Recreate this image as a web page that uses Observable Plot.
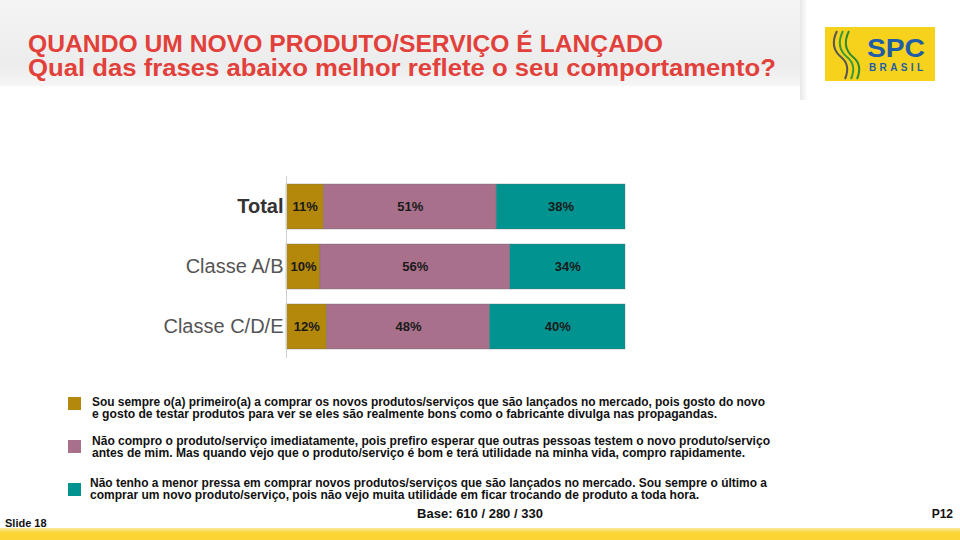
<!DOCTYPE html>
<html><head><meta charset="utf-8">
<script src="https://cdn.jsdelivr.net/npm/d3@7"></script>
<script src="https://cdn.jsdelivr.net/npm/@observablehq/plot@0.6"></script>
<style>
body{margin:0;background:#fff;}
#page{position:relative;width:960px;height:540px;overflow:hidden;background:#fff;font-family:"Liberation Sans",Arial,sans-serif;}
#header{position:absolute;left:0;top:0;width:805px;height:86px;background:linear-gradient(#f5f5f5 0%,#ececec 75%,#f6f6f6 100%);}
#hshadow{position:absolute;left:800px;top:0;width:8px;height:100px;background:linear-gradient(90deg,#e8e8e8,#fff);}
#logo{position:absolute;left:825px;top:27px;width:110px;height:54px;background:#f7d21c;}
#chart{position:absolute;left:0;top:176px;}
#overlay{position:absolute;left:0;top:0;}
.leg{position:absolute;left:68px;width:13px;height:13px;}
#band{position:absolute;left:0;top:528px;width:960px;height:12px;background:linear-gradient(#fbe9a0,#fcd535 40%,#fcd535);}
</style></head>
<body><div id="page">
<div id="header"></div><div id="hshadow"></div>
<div id="logo"><svg width="110" height="54" style="position:absolute;left:0;top:0">
<path d="M12 4 Q4 20 16 30 Q26 38 20 52" stroke="#555" stroke-width="2" fill="none"/>
<path d="M18 4 Q10 20 22 30 Q32 38 26 52" stroke="#3a9a3a" stroke-width="2" fill="none"/>
<path d="M24 4 Q16 20 28 30 Q38 38 32 52" stroke="#2e8a2e" stroke-width="2" fill="none"/>
<text x="71" y="30" text-anchor="middle" font-family="'Liberation Sans', Arial, sans-serif" font-weight="bold" font-size="26" fill="#1f5da8" textLength="58" lengthAdjust="spacingAndGlyphs">SPC</text>
<text x="71" y="43.5" text-anchor="middle" font-family="'Liberation Sans', Arial, sans-serif" font-weight="bold" font-size="10" fill="#1f5da8" textLength="54" lengthAdjust="spacing">BRASIL</text>
</svg></div>
<div id="chart"></div>
<div id="legend"></div>
<div id="band"></div>
<svg id="overlay" width="960" height="540"></svg>
</div>
<script>
const categories = ["Total", "Classe A/B", "Classe C/D/E"];
const seriesNames = ["Primeiro", "Espera", "Último"];
const primeiro = [11, 10, 12];
const espera = [51, 56, 48];
const ultimo = [38, 34, 40];
const colors = ["#b3880b", "#a8708b", "#019390"];
const titleLines = ["QUANDO UM NOVO PRODUTO/SERVIÇO É LANÇADO", "Qual das frases abaixo melhor reflete o seu comportamento?"];
const legendTexts = [
  ["Sou sempre o(a) primeiro(a) a comprar os novos produtos/serviços que são lançados no mercado, pois gosto do novo", "e gosto de testar produtos para ver se eles são realmente bons como o fabricante divulga nas propagandas."],
  ["Não compro o produto/serviço imediatamente, pois prefiro esperar que outras pessoas testem o novo produto/serviço", "antes de mim. Mas quando vejo que o produto/serviço é bom e terá utilidade na minha vida, compro rapidamente."],
  ["Não tenho a menor pressa em comprar novos produtos/serviços que são lançados no mercado. Sou sempre o último a", "comprar um novo produto/serviço, pois não vejo muita utilidade em ficar trocando de produto a toda hora."]
];
const baseText = "Base: 610 / 280 / 330";
const slideText = "Slide 18";
const pageText = "P12";

const seriesValues = [primeiro, espera, ultimo];
const data = [];
categories.forEach((c, i) => seriesNames.forEach((s, j) => data.push({cat: c, series: s, value: seriesValues[j][i]})));

const chart = Plot.plot({
  width: 960, height: 182,
  marginLeft: 286, marginRight: 335, marginTop: 0, marginBottom: 0,
  x: {domain: [0, 100], axis: null},
  y: {domain: categories, paddingInner: 0.246, paddingOuter: 0.115, axis: null},
  color: {domain: seriesNames, range: colors},
  style: {fontFamily: "'Liberation Sans', Arial, sans-serif", background: "transparent"},
  marks: [
    Plot.barX(data, Plot.stackX({x: "value", y: "cat", fill: "series", order: seriesNames, stroke: "#6a6a6a", strokeWidth: 0.6, strokeOpacity: 0.6})),
    Plot.textX(data, Plot.stackX({x: "value", y: "cat", z: "series", order: seriesNames, text: d => d.value + "%", fill: "#1a1a1a", fontSize: 13, fontWeight: "bold"})),
    Plot.ruleX([0], {stroke: "#cfcfcf", strokeWidth: 1}),
    Plot.text(categories.filter(c => c === "Total"), {x: () => 0, y: d => d, text: d => d, textAnchor: "end", dx: -3, fontSize: 20, fontWeight: "bold", fill: "#333"}),
    Plot.text(categories.filter(c => c !== "Total"), {x: () => 0, y: d => d, text: d => d, textAnchor: "end", dx: -3, fontSize: 20, fill: "#555"})
  ]
});
document.getElementById("chart").appendChild(chart);

const ov = d3.select("#overlay");
function addText(t, x, y, size, len, fill, anchor) {
  const el = ov.append("text").attr("x", x).attr("y", y).text(t)
    .attr("font-family", "'Liberation Sans', Arial, sans-serif").attr("font-weight", "bold")
    .attr("font-size", size).attr("fill", fill).attr("text-anchor", anchor || "start");
  if (len) el.attr("textLength", len).attr("lengthAdjust", "spacingAndGlyphs");
}
addText(titleLines[0], 28, 52, 24, 635, "#e2403a");
addText(titleLines[1], 28, 75.5, 23.5, 748, "#e2403a");

const leg = document.getElementById("legend");
const sqTops = [397, 440, 483];
const baselines = [[405.5, 418], [444.5, 457], [486.5, 499]];
const lineEnds = [[765, 717], [770, 745], [767, 699]];
const lineStarts = [92, 92, 90];
legendTexts.forEach((lines, i) => {
  const sq = document.createElement("div");
  sq.className = "leg"; sq.style.top = sqTops[i] + "px"; sq.style.background = colors[i];
  leg.appendChild(sq);
  lines.forEach((t, k) => addText(t, lineStarts[i], baselines[i][k], 12, lineEnds[i][k] - lineStarts[i], "#111"));
});
addText(baseText, 480, 518, 13, null, "#111", "middle");
addText(slideText, 5, 527, 11, null, "#111");
addText(pageText, 953, 518, 12, null, "#111", "end");
</script>
</body></html>
